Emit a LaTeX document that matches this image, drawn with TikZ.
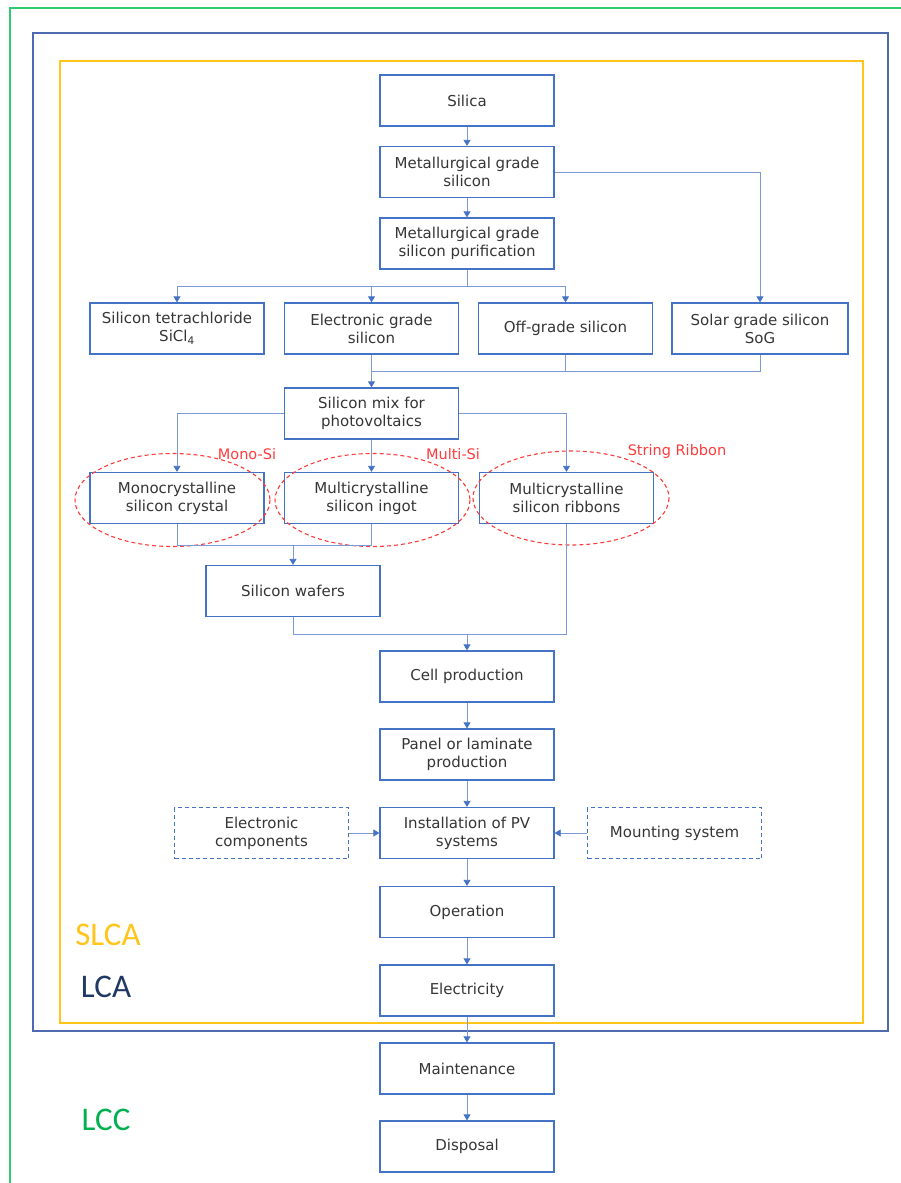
\documentclass[tikz,border=0pt]{standalone}
\usepackage{fontspec}
\setmainfont{DejaVu Sans}
\newfontfamily\lblfont{Carlito}
\usetikzlibrary{arrows.meta}
\definecolor{boxblue}{HTML}{4472C4}
\definecolor{lineblue}{HTML}{7C9BD6}
\definecolor{lcablue}{HTML}{4F6BB0}
\definecolor{slcayel}{HTML}{FFC51A}
\definecolor{lccgreen}{HTML}{2ECC71}
\definecolor{lcctext}{HTML}{00B050}
\definecolor{lcanavy}{HTML}{1F3864}
\definecolor{redd}{HTML}{FF3B3B}
\definecolor{txt}{HTML}{353535}
\tikzset{
  pbox/.style={draw=boxblue, line width=1.3pt, minimum width=174pt, minimum height=51pt,
    align=center, text=txt, font=\fontsize{15}{18}\selectfont, inner sep=0pt},
  dbox/.style={pbox, dashed, dash pattern=on 4pt off 3pt},
  conn/.style={draw=lineblue, line width=0.8pt},
  arr/.style={conn, -{Triangle[width=7pt,length=6pt,fill=boxblue,color=boxblue]}},
  redlbl/.style={text=redd, font=\fontsize{14.5}{17}\selectfont},
  ell/.style={draw=redd, line width=1.1pt, dash pattern=on 4pt off 3pt},
  framelbl/.style={font=\fontsize{33}{34}\selectfont\lblfont}
}
\begin{document}
\begin{tikzpicture}[x=1pt,y=-1pt]
\useasboundingbox (0,0) rectangle (901,1183);
% frames
\draw[lccgreen, line width=1.8pt] (10,1183) -- (10,8) -- (901,8);
\draw[lcablue, line width=1.8pt] (33,33) rectangle (888,1031);
\draw[slcayel, line width=1.8pt] (60,61) rectangle (863,1023);
% frame labels
\node[framelbl, text=slcayel] (slca) at (108,935) {SLCA};
\node[framelbl, text=lcanavy] (lca) at (106,987) {LCA};
\node[framelbl, text=lcctext] (lcc) at (106,1120) {LCC};
% boxes
\node[pbox] (silica) at (467,100.5) {Silica};
\node[pbox] (mgs) at (467,172) {Metallurgical grade\\silicon};
\node[pbox] (mgp) at (467,243.5) {Metallurgical grade\\silicon purification};
\node[pbox] (sicl) at (177,328.5) {Silicon tetrachloride\\SiCl\textsubscript{4}};
\node[pbox] (egs) at (371.5,328.5) {Electronic grade\\silicon};
\node[pbox] (ogs) at (565.5,328.5) {Off-grade silicon};
\node[pbox, minimum width=176pt] (sog) at (760,328.5) {Solar grade silicon\\SoG};
\node[pbox] (mix) at (371.5,413.5) {Silicon mix for\\photovoltaics};
\node[pbox] (mono) at (177,498) {Monocrystalline\\silicon crystal};
\node[pbox] (ingot) at (371.5,498) {Multicrystalline\\silicon ingot};
\node[pbox] (ribbon) at (566.5,498) {Multicrystalline\\silicon ribbons};
\node[pbox] (wafers) at (293,591) {Silicon wafers};
\node[pbox] (cell) at (467,676.5) {Cell production};
\node[pbox] (panel) at (467,754.5) {Panel or laminate\\production};
\node[pbox] (inst) at (467,833) {Installation of PV\\systems};
\node[dbox] (ecomp) at (261.5,833) {Electronic\\components};
\node[dbox] (mount) at (674.5,833) {Mounting system};
\node[pbox] (oper) at (467,912) {Operation};
\node[pbox] (elec) at (467,990.5) {Electricity};
\node[pbox] (maint) at (467,1068.5) {Maintenance};
\node[pbox] (disp) at (467,1146.5) {Disposal};
% ellipses
\draw[ell] (172.5,500) ellipse [x radius=97.5, y radius=46.5];
\draw[ell] (372.5,500) ellipse [x radius=97.5, y radius=46.5];
\draw[ell] (571,498) ellipse [x radius=98, y radius=47];
\node[redlbl] (lmono) at (247,454) {Mono-Si};
\node[redlbl] (lmulti) at (453,454) {Multi-Si};
\node[redlbl] (lstring) at (677,451) {String Ribbon};
% connectors
\draw[arr] (silica) -- (mgs);
\draw[arr] (mgs) -- (mgp);
\draw[arr] (mgs.east) -| (sog.north);
\coordinate (j1) at (467,286);
\draw[conn] (mgp.south) -- (j1);
\draw[arr] (j1) -| (sicl.north);
\draw[arr] (j1) -| (ogs.north);
\draw[arr] (egs.north |- j1) -- (egs.north);
\coordinate (j2) at (371.5,371);
\draw[conn] (egs.south) -- (j2);
\draw[conn] (sog.south) |- (j2);
\draw[conn] (ogs.south) -- (ogs.south |- j2);
\draw[arr] (j2) -- (mix.north);
\draw[arr] (mix.west) -| (mono.north);
\draw[arr] (mix.east) -| (ribbon.north);
\draw[arr] (mix.south) -- (ingot.north);
\coordinate (j3) at (293,545);
\draw[conn] (mono.south) |- (ingot.south |- j3) -- (ingot.south);
\draw[arr] (j3) -- (wafers.north);
\coordinate (j4) at (467,634);
\draw[conn] (wafers.south) |- (ribbon.south |- j4) -- (ribbon.south);
\draw[arr] (j4) -- (cell.north);
\draw[arr] (cell) -- (panel);
\draw[arr] (panel) -- (inst);
\draw[arr] (ecomp) -- (inst);
\draw[arr] (mount) -- (inst);
\draw[arr] (inst) -- (oper);
\draw[arr] (oper) -- (elec);
\draw[arr] (elec) -- (maint);
\draw[arr] (maint) -- (disp);
\end{tikzpicture}
\end{document}
